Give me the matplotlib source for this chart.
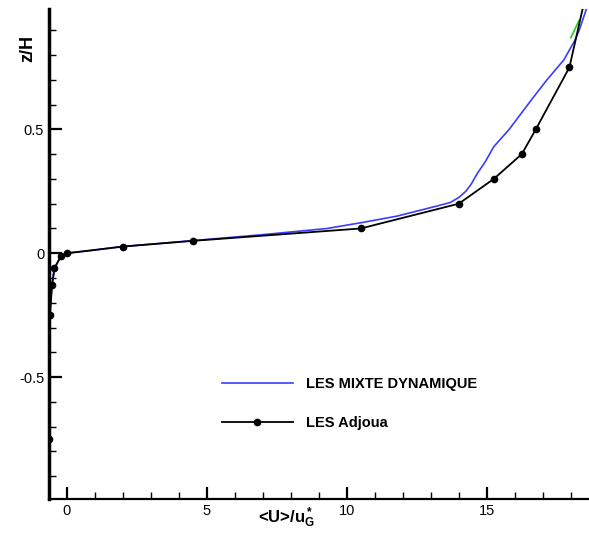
import numpy as np
import matplotlib
matplotlib.use('Agg')
import matplotlib.pyplot as plt
from matplotlib.ticker import MultipleLocator

plt.rcParams['font.family'] = ['Liberation Sans', 'DejaVu Sans']
plt.rcParams['axes.unicode_minus'] = False
plt.rcParams['mathtext.fontset'] = 'custom'
plt.rcParams['mathtext.rm'] = 'Liberation Sans:bold'
plt.rcParams['mathtext.bf'] = 'Liberation Sans:bold'
plt.rcParams['mathtext.it'] = 'Liberation Sans:bold'

# LES Adjoua
u_adjoua = [18.45, 17.95, 16.75, 16.25, 15.25, 14.0, 10.5, 4.5, 2.0, 0.0, -0.2, -0.44, -0.52, -0.6, -0.62]
z_adjoua = [1.0, 0.75, 0.5, 0.4, 0.3, 0.2, 0.1, 0.05, 0.027, 0.0, -0.012, -0.06, -0.13, -0.25, -0.75]

# LES mixte dynamique (blue curve)
u_mixte = [18.6, 18.45, 18.3, 18.15, 17.95, 17.75, 17.15, 16.6, 16.2, 15.8, 15.25, 14.95, 14.65,
           14.45, 14.25, 14.0, 13.7, 13.2, 12.5, 11.8, 10.6, 9.3, 7.0, 4.4, 2.0, 0.8, 0.0,
           -0.25, -0.42, -0.52, -0.58, -0.62, -0.62]
z_mixte = [1.0, 0.95, 0.9, 0.86, 0.82, 0.78, 0.7, 0.62, 0.56, 0.5, 0.43, 0.37, 0.32,
           0.28, 0.25, 0.225, 0.205, 0.19, 0.17, 0.15, 0.125, 0.1, 0.075, 0.05, 0.027, 0.01, 0.0,
           -0.02, -0.06, -0.12, -0.2, -0.5, -1.0]

# short green segment near the top
u_green = [18.0, 18.3]
z_green = [0.87, 0.94]

fig = plt.figure(figsize=(5.89, 5.35), dpi=100)
ax = fig.add_axes([0.0832, 0.0667, 0.9168, 0.9166])

l1, = ax.plot(u_mixte, z_mixte, color='#3c3cff', lw=1.2, label='LES MIXTE DYNAMIQUE')
ax.plot(u_green, z_green, color='#22cc22', lw=1.2)
l2, = ax.plot(u_adjoua, z_adjoua, color='black', lw=1.3, marker='o', markersize=4.5,
              label='LES Adjoua')

ax.set_xlim(-0.63, 18.65)
ax.set_ylim(-0.993, 0.986)

for s in ['top', 'right']:
    ax.spines[s].set_visible(False)
ax.spines['left'].set_linewidth(2.5)
ax.spines['bottom'].set_linewidth(1.6)

ax.xaxis.set_major_locator(MultipleLocator(5))
ax.xaxis.set_minor_locator(MultipleLocator(1))
ax.yaxis.set_major_locator(MultipleLocator(0.5))
ax.yaxis.set_minor_locator(MultipleLocator(0.1))
ax.tick_params(which='both', direction='in', labelsize=10.5)
ax.tick_params(which='major', length=9, width=1.6)
ax.tick_params(which='minor', length=5, width=1.0)
ax.yaxis.set_major_formatter(matplotlib.ticker.FuncFormatter(lambda v, p: '0' if abs(v) < 1e-9 else f'{v:g}'))

fig.text(286.7 / 589, 1 - 522.7 / 535, r'<U>/u$^*_\mathbf{G}$', ha='center', va='baseline',
         fontsize=12, fontweight='bold')
fig.text(27.5 / 589, 1 - 48.5 / 535, 'z/H', rotation=90, ha='center', va='center',
         fontsize=13, fontweight='bold')

fig.legend(handles=[l1, l2], loc='upper left', bbox_to_anchor=(221.7 / 589, 1 - 377 / 535),
           frameon=False, borderpad=0, borderaxespad=0, handlelength=4.9, handletextpad=0.9,
           labelspacing=1.7, numpoints=1, prop={'weight': 'bold', 'size': 10.5})

fig.savefig('out.png', dpi=100)
